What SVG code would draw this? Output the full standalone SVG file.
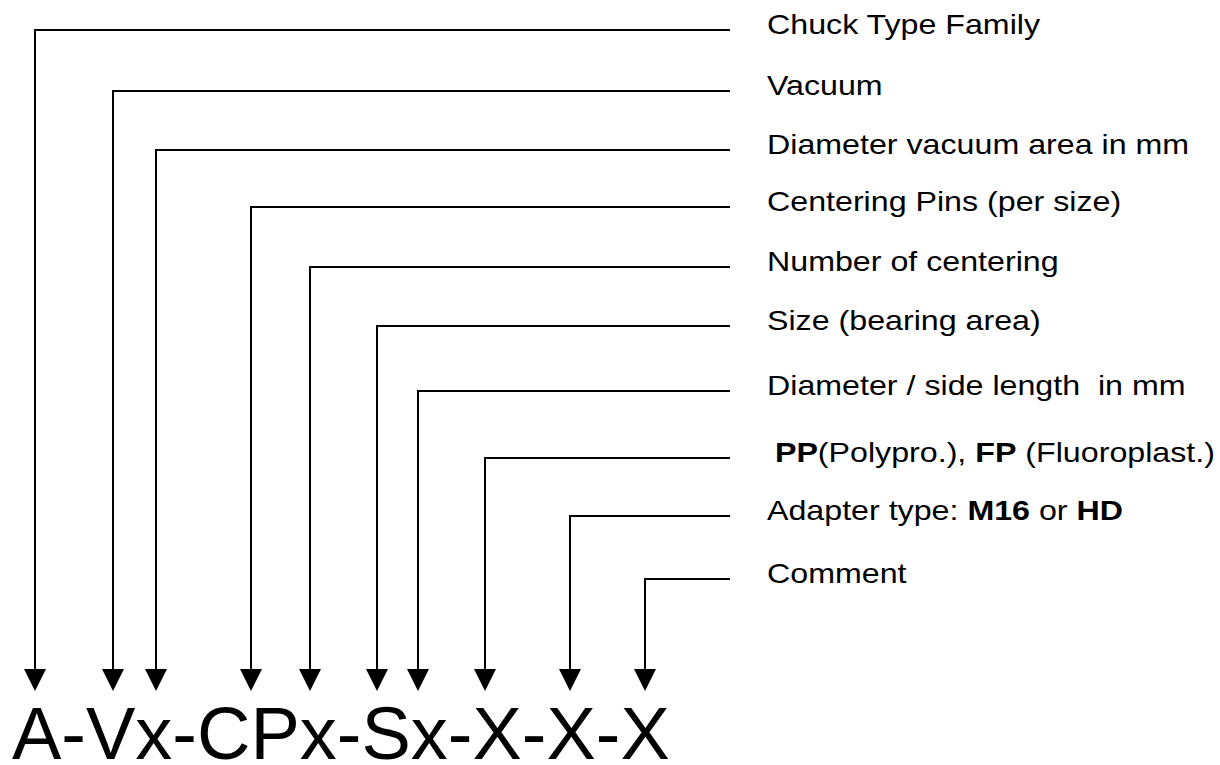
<svg xmlns="http://www.w3.org/2000/svg" width="1220" height="765" viewBox="0 0 1220 765">
<style>
.c{fill:none;stroke:#000;stroke-width:2}
.l{font-family:"Liberation Sans",Arial,sans-serif;font-size:28.5px;fill:#000}
.b{font-weight:bold}
.code{font-family:"Liberation Sans",Arial,sans-serif;font-size:74px;fill:#000}
</style>
<defs>
<marker id="ah" viewBox="0 0 22 22" markerWidth="22" markerHeight="22" refX="0" refY="11" orient="auto" markerUnits="userSpaceOnUse">
<path d="M0,0 L22,11 L0,22 z" fill="#000"/>
</marker>
</defs>
<rect width="1220" height="765" fill="#fff"/>
<g id="connectors">
<path class="c" marker-end="url(#ah)" d="M730,30 H35 V669"/>
<path class="c" marker-end="url(#ah)" d="M730,91 H113 V669"/>
<path class="c" marker-end="url(#ah)" d="M730,150 H156 V669"/>
<path class="c" marker-end="url(#ah)" d="M730,207 H251 V669"/>
<path class="c" marker-end="url(#ah)" d="M730,267 H310 V669"/>
<path class="c" marker-end="url(#ah)" d="M730,326 H377 V669"/>
<path class="c" marker-end="url(#ah)" d="M730,391 H418 V669"/>
<path class="c" marker-end="url(#ah)" d="M730,458 H485 V669"/>
<path class="c" marker-end="url(#ah)" d="M730,516 H570 V669"/>
<path class="c" marker-end="url(#ah)" d="M730,579 H645 V669"/>
</g>
<g transform="translate(767 0) scale(1.13 1)">
<g id="label1"><text class="l" x="0" y="34">Chuck Type Family</text></g>
<g id="label2"><text class="l" x="0" y="95">Vacuum</text></g>
<g id="label3"><text class="l" x="0" y="154">Diameter vacuum area in mm</text></g>
<g id="label4"><text class="l" x="0" y="211">Centering Pins (per size)</text></g>
<g id="label5"><text class="l" x="0" y="271">Number of centering</text></g>
<g id="label6"><text class="l" x="0" y="330">Size (bearing area)</text></g>
<g id="label7"><text class="l" x="0" y="395" xml:space="preserve">Diameter / side length  in mm</text></g>
<g id="label8"><text class="l" x="7" y="462"><tspan class="b">PP</tspan>(Polypro.), <tspan class="b">FP</tspan> (Fluoroplast.)</text></g>
<g id="label9"><text class="l" x="0" y="520">Adapter type: <tspan class="b">M16</tspan> or <tspan class="b">HD</tspan></text></g>
<g id="label10"><text class="l" x="0" y="583">Comment</text></g>
</g>
<g id="code"><text class="code" x="12" y="759">A-Vx-CPx-Sx-X-X-X</text></g>
</svg>
